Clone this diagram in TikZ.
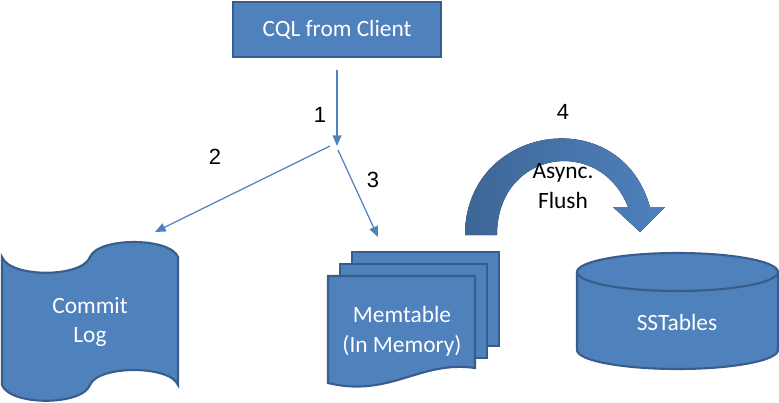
\documentclass[tikz,border=0pt]{standalone}
\usepackage{fontspec}
\setmainfont{Carlito}
\newfontfamily\numfont{Liberation Sans}
\usepackage{tikz}
\usetikzlibrary{arrows.meta,shapes}
\definecolor{shapefill}{HTML}{4F81BD}
\definecolor{shapeline}{HTML}{385D8A}
\definecolor{flushdark}{HTML}{3D6696}
\tikzstyle{block}=[fill=shapefill, draw=shapeline
,line width=1.2pt
]
\tikzstyle{whitetext}=[text=white, align=center, font=\fontsize{13.3}{17}\selectfont]
\tikzstyle{blacktext}=[text=black, align=center, font=\fontsize{13.3}{17}\selectfont]
\tikzstyle{numtext}=[font=\numfont\fontsize{12.5}{15}\selectfont]
\tikzstyle{edge} = [draw=shapefill, line width=0.7pt, -{Triangle[length=6pt,width=5pt]}]

\begin{document}
\begin{tikzpicture}[x=0.02cm,y=-0.02cm]
    \useasboundingbox (0,0) rectangle (779,403);
    % The client request
    \node[block, whitetext, minimum width=118.5pt, minimum height=31.2pt, inner sep=0pt] (cql) at (337,29.5) {CQL from Client};

    % Commit log (punched tape)
    \path[block] (2,257) .. controls (10,278) and (82,278) .. (90,257)
        .. controls (98,237) and (170,237) .. (178,257) -- (178,385)
        .. controls (170,365) and (98,365) .. (90,385)
        .. controls (82,406) and (10,406) .. (2,385) -- cycle;
    \node[whitetext] (commit) at (90,322) {Commit\\Log};

    % Memtable (stacked documents)
    \foreach \d in {24,12}
        \path[block] (328+\d,276-\d) rectangle (475+\d,370-\d);
    \path[block] (328,276) -- (475,276) -- (475,368)
        .. controls (420,360) and (390,398) .. (328,383) -- cycle;
    \node[whitetext] (memtable) at (402,331) {Memtable\\(In Memory)};

    % SSTables (cylinder)
    \path[block] (577,272) -- (577,350) .. controls (577,360.5) and (622,369) .. (677.5,369)
        .. controls (733,369) and (778,360.5) .. (778,350) -- (778,272) -- cycle;
    \path[block] (677.5,272) ellipse [x radius=100.5, y radius=19];
    \node[whitetext] (sstables) at (677,322) {SSTables};

    % Async flush arrow
    \fill[left color=flushdark, right color=shapefill] (465,235) .. controls (465,125) and (620,100) .. (650,207)
        -- (665,207) -- (640,232) -- (613,207) -- (628,207)
        .. controls (600,135) and (497,150) .. (497,235) -- cycle;
    \node[blacktext] (flush) at (563,186) {Async.\\Flush};

    % Write path
    \coordinate (split) at (337,146);
    \coordinate (split2) at (330,146);
    \coordinate (split3) at (338,150);
    \coordinate (logtop) at (155,232);
    \coordinate (memtop) at (378,237);
    \path[edge, shorten <=6.8pt] (cql) -- (split);
    \path[edge] (split2) -- (logtop);
    \path[edge] (split3) -- (memtop);

    % Step numbers
    \foreach \pos/\name/\txt in {{(320,115)/one/1}, {(215,157)/two/2}, {(373,180)/three/3}, {(563,112)/four/4}}
        \node[numtext] (\name) at \pos {\txt};
\end{tikzpicture}
\end{document}
